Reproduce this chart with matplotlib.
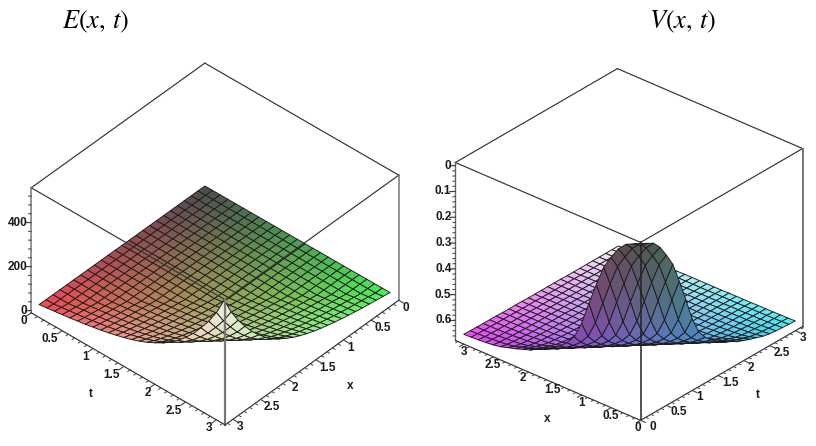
import numpy as np
import matplotlib
matplotlib.use("Agg")
from matplotlib import pyplot as plt
from mpl_toolkits.mplot3d import proj3d

plt.rcParams['font.family'] = ['Liberation Sans', 'DejaVu Sans']
plt.rcParams['mathtext.fontset'] = 'stix'

# grid of both surfaces
grid = [0, 0.125, 0.25, 0.375, 0.5, 0.625, 0.75, 0.875, 1, 1.125, 1.25, 1.375, 1.5,
        1.625, 1.75, 1.875, 2, 2.125, 2.25, 2.375, 2.5, 2.625, 2.75, 2.875, 3]

# both are waves, the height only depends on x+t (steps of 0.125, from 0 to 6)
E_wave = [0, 0.1, 0.1, 0.2, 0.2, 0.3, 0.3, 0.4, 0.4, 0.5, 0.5, 0.6, 0.7,
          0.8, 0.9, 1, 1.1, 1.2, 1.3, 1.4, 1.5, 1.6, 1.7, 1.9, 2,
          7, 12, 17, 22, 28, 34, 41, 48, 56, 65, 75, 86,
          99, 114, 132, 152, 176, 204, 238, 276, 322, 372, 432, 508]
V_wave = [0.0, 0.006, 0.02, 0.05, 0.095, 0.145, 0.225, 0.31, 0.40, 0.465, 0.50, 0.525, 0.545,
          0.56, 0.575, 0.59, 0.60, 0.61, 0.618, 0.627, 0.632, 0.635, 0.637, 0.639, 0.64,
          0.641, 0.641, 0.642, 0.642, 0.642, 0.643, 0.643, 0.643, 0.643, 0.644, 0.644, 0.644,
          0.644, 0.644, 0.644, 0.645, 0.645, 0.645, 0.645, 0.645, 0.645, 0.645, 0.645, 0.645]

E_zticks = [0, 200, 400]
E_zticks_minor = [40, 80, 120, 160, 240, 280, 320, 360, 440, 480, 520]
V_zticks = [0, 0.1, 0.2, 0.3, 0.4, 0.5, 0.6]
V_zticks_minor = [0.02, 0.04, 0.06, 0.08, 0.12, 0.14, 0.16, 0.18, 0.22, 0.24, 0.26, 0.28,
                  0.32, 0.34, 0.36, 0.38, 0.42, 0.44, 0.46, 0.48, 0.52, 0.54, 0.56, 0.58, 0.62, 0.64, 0.66]
xy_ticks = [0, 0.5, 1, 1.5, 2, 2.5, 3]
xy_labels = ["0", "0.5", "1", "1.5", "2", "2.5", "3"]
xy_minor = [0.1, 0.2, 0.3, 0.4, 0.6, 0.7, 0.8, 0.9, 1.1, 1.2, 1.3, 1.4, 1.6, 1.7, 1.8, 1.9,
            2.1, 2.2, 2.3, 2.4, 2.6, 2.7, 2.8, 2.9, 3.1]

LIM = np.pi
W, H = 816, 446
BOX = "#333333"
TICK = "#444444"


def make_axes(cx, cy, size, aspect, elev, azim, xlim, ylim, zlim):
    # cx, cy = pixel position of the box centre
    frac = 0.095 / 0.185
    ax = plt.gcf().add_axes([(cx - frac * size) / W, (H - cy - frac * size) / H, size / W, size / H],
                            projection="3d", proj_type="ortho")
    ax.view_init(elev=elev, azim=azim)
    ax.set_xlim(*xlim)
    ax.set_ylim(*ylim)
    ax.set_zlim(*zlim)
    norm = np.linalg.norm(aspect)
    ax.set_box_aspect(aspect, zoom=norm * 1.85 / (1.8294640721620434 * 25 / 24) / size)
    ax.set_axis_off()
    ax.computed_zorder = False
    return ax


def surface(ax, X, Y, Z, zmax, gamma=1.0):
    # red follows x, green follows t, blue follows z
    blue = np.clip(Z / zmax, 0, 1) ** gamma
    rgb = np.dstack([0.3 + 0.65 * X / 3, 0.3 + 0.65 * Y / 3, 0.3 + 0.65 * blue])
    ax.plot_surface(X, Y, Z, facecolors=rgb, rstride=1, cstride=1, shade=False,
                    edgecolor="#1c1c1c", linewidth=0.65, zorder=1)


def line(ax, p, q, color=BOX, lw=0.85):
    ax.plot([p[0], q[0]], [p[1], q[1]], [p[2], q[2]], color=color, lw=lw, zorder=3)


def label(ax, x, y, z, s, dx=0, dy=0, ha="center"):
    # text at a 3d point, moved by some pixels on the screen
    px, py, _ = proj3d.proj_transform(x, y, z, ax.get_proj())
    ax.annotate(s, xy=(px, py), xytext=(dx, dy), textcoords="offset pixels", annotation_clip=False,
                fontsize=8.5, fontweight="bold", color="#1a1a1a", ha=ha, va="center")


X, Y = np.meshgrid(np.array(grid), np.array(grid), indexing="ij")
idx = np.add.outer(np.arange(len(grid)), np.arange(len(grid)))

fig = plt.figure(figsize=(W / 100, H / 100), dpi=100)

# ---------- E(x,t) ----------
zlo, zhi = -10, 558
ax = make_axes(215, 244, 400, (260, 260.5, 163.5), 40.1, 41.9, (0, LIM), (0, LIM), (zlo, zhi))
surface(ax, X, Y, np.array(E_wave)[idx], E_wave[-1], gamma=0.5)

line(ax, (LIM, 0, zhi), (0, 0, zhi))
line(ax, (0, 0, zhi), (0, LIM, zhi))
line(ax, (0, LIM, zhi), (LIM, LIM, zhi))
line(ax, (LIM, LIM, zhi), (LIM, 0, zhi))
line(ax, (LIM, 0, zhi), (LIM, 0, zlo), color="#777777", lw=1.1)
line(ax, (0, LIM, zhi), (0, LIM, zlo), color="#777777", lw=1.1)
line(ax, (LIM, LIM, zhi), (LIM, LIM, zlo), color="#777777", lw=1.6)
line(ax, (LIM, 0, zlo), (LIM, LIM, zlo))
line(ax, (0, LIM, zlo), (LIM, LIM, zlo))

for v, s in zip(xy_ticks, xy_labels):
    line(ax, (LIM, v, zlo), (LIM + 0.08, v, zlo), color=TICK, lw=0.8)
    label(ax, LIM, v, zlo, s, dx=-4, dy=-8.5, ha="right")
    line(ax, (v, LIM, zlo), (v, LIM + 0.08, zlo), color=TICK, lw=0.8)
    label(ax, v, LIM, zlo, s, dx=3.5, dy=-8, ha="left")
for v in xy_minor:
    line(ax, (LIM, v, zlo), (LIM + 0.04, v, zlo), color=TICK, lw=0.7)
    line(ax, (v, LIM, zlo), (v, LIM + 0.04, zlo), color=TICK, lw=0.7)
for v in E_zticks:
    line(ax, (LIM + 0.045, -0.05, v), (LIM, 0, v), color=TICK, lw=0.9)
    label(ax, LIM, 0, v, str(v), dx=-4, ha="right")
for v in E_zticks_minor:
    line(ax, (LIM + 0.022, -0.025, v), (LIM, 0, v), color=TICK, lw=0.7)
label(ax, 3.79, 1.55, zlo, "t")
label(ax, 1.59, 3.78, zlo, "x")

# ---------- V(x,t) ----------
zlo, zhi = 0.678, -0.012
ax = make_axes(629, 244.5, 400, (244.6, 248, 205.5), 30, -49.2, (LIM, 0), (0, LIM), (zlo, zhi))
surface(ax, X, Y, np.array(V_wave)[idx], V_wave[-1])

line(ax, (LIM, 0, zhi), (0, 0, zhi))
line(ax, (0, 0, zhi), (0, LIM, zhi))
line(ax, (0, LIM, zhi), (LIM, LIM, zhi))
line(ax, (LIM, LIM, zhi), (LIM, 0, zhi))
line(ax, (LIM, 0, zhi), (LIM, 0, zlo), color="#666666", lw=1.0)
line(ax, (0, LIM, zhi), (0, LIM, zlo), color="#777777", lw=1.4)
line(ax, (0, 0, zhi), (0, 0, zlo), color="#222222", lw=1.1)
line(ax, (LIM, 0, zlo), (0, 0, zlo))
line(ax, (0, LIM, zlo), (0, 0, zlo))

for v, s in zip(xy_ticks, xy_labels):
    line(ax, (v, 0, zlo), (v, -0.08, zlo), color=TICK, lw=0.8)
    label(ax, v, 0, zlo, s, dx=-3 if v == 0 else 0, dy=-8)
    line(ax, (0, v, zlo), (-0.08, v, zlo), color=TICK, lw=0.8)
    label(ax, 0, v, zlo, s, dx=9 if v == 0 else 4, dy=-7, ha="left")
for v in xy_minor:
    line(ax, (v, 0, zlo), (v, -0.04, zlo), color=TICK, lw=0.7)
    line(ax, (0, v, zlo), (-0.04, v, zlo), color=TICK, lw=0.7)
for v in V_zticks:
    line(ax, (LIM + 0.05, -0.05, v), (LIM, 0, v), color=TICK, lw=0.9)
    label(ax, LIM, 0, v, str(v) if v else "0", dx=-4, ha="right")
for v in V_zticks_minor:
    line(ax, (LIM + 0.022, -0.025, v), (LIM, 0, v), color=TICK, lw=0.7)
label(ax, 0.92, -0.75, zlo, "x")
label(ax, -0.72, 1.447, zlo, "t")

fig.text(96 / W, 1 - 22 / H, r"$E(x,\,t)$", fontsize=19, ha="center", va="center", color="black")
fig.text(683 / W, 1 - 22 / H, r"$V(x,\,t)$", fontsize=19, ha="center", va="center", color="black")

fig.savefig("out.png", dpi=100)
